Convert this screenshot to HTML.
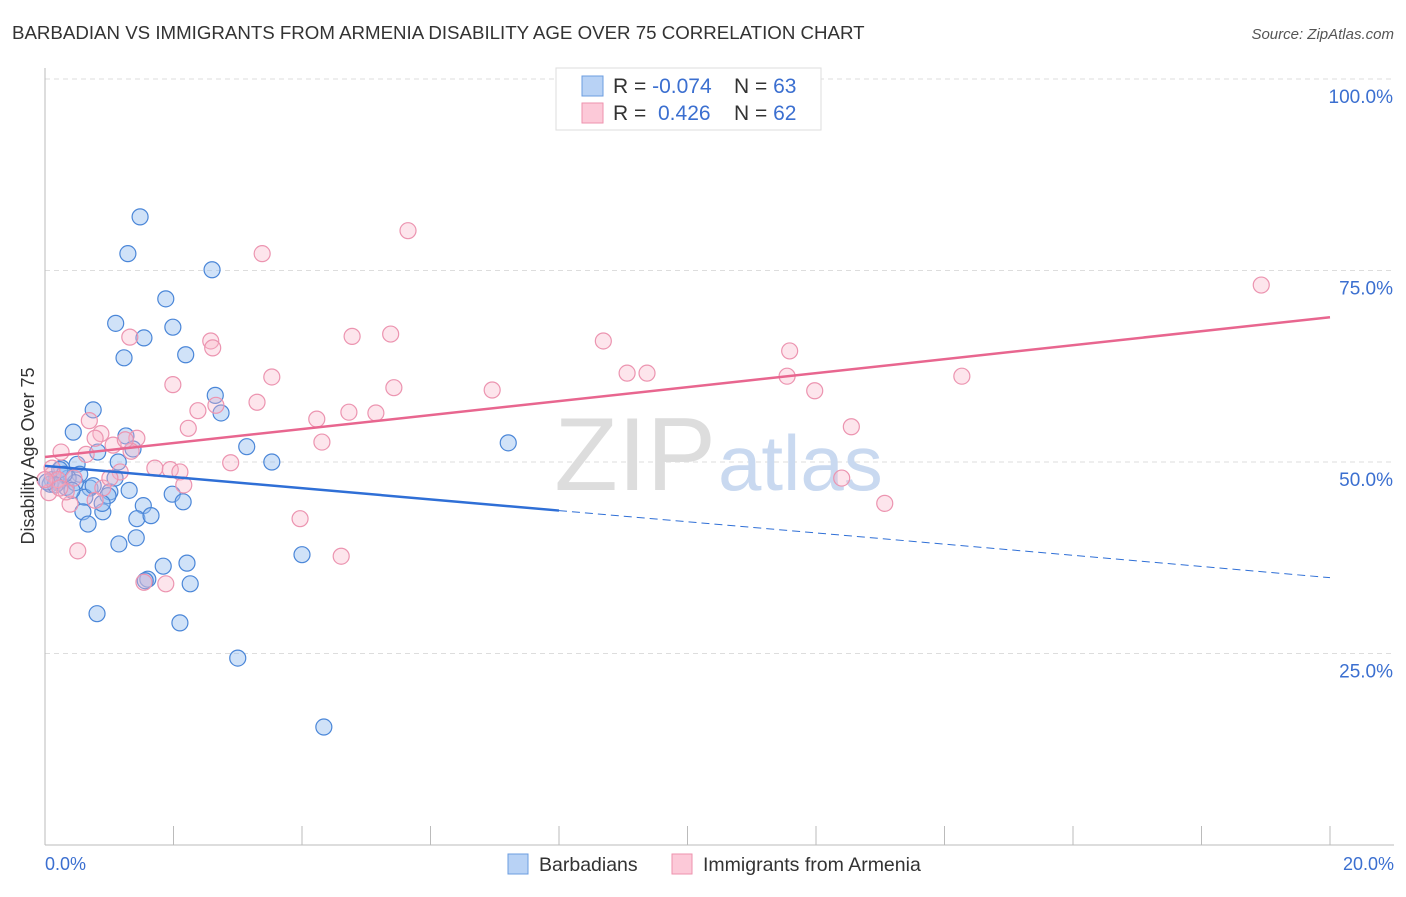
<!DOCTYPE html>
<html><head><meta charset="utf-8"><style>
body{margin:0;background:#fff;font-family:"Liberation Sans",sans-serif;}
svg text{font-family:"Liberation Sans",sans-serif;}
</style></head><body>
<svg id="chart" width="1406" height="892">
<text x="12" y="39" font-size="18.7" fill="#333">BARBADIAN VS IMMIGRANTS FROM ARMENIA DISABILITY AGE OVER 75 CORRELATION CHART</text>
<text x="1394" y="39" font-size="15" fill="#555" font-style="italic" text-anchor="end">Source: ZipAtlas.com</text>
<g id="grid"></g>
<text x="716" y="490" font-size="104" fill="#ddd" text-anchor="end" font-family="Liberation Serif">ZIP</text>
<text x="718" y="490" font-size="78" fill="#c9d9f0">atlas</text>
<g id="points"></g>
<g id="lines"></g>
<text transform="translate(34,456) rotate(-90)" font-size="18" fill="#333" text-anchor="middle">Disability Age Over 75</text>
<text x="45" y="870" font-size="18" fill="#3b6fd0">0.0%</text>
<text x="1394" y="870" font-size="18" fill="#3b6fd0" text-anchor="end">20.0%</text>
<g>
<rect x="556" y="68" width="265" height="62" fill="#fff" stroke="#ddd"/>
<rect x="582" y="76" width="21" height="20" fill="#b8d2f5" stroke="#6b9de0"/>
<rect x="582" y="103" width="21" height="20" fill="#fcc9d8" stroke="#ee92ae"/>
<text x="613" y="93" font-size="21" fill="#333">R = <tspan fill="#3b6fd0">-0.074</tspan></text>
<text x="734" y="93" font-size="21" fill="#333">N = <tspan fill="#3b6fd0">63</tspan></text>
<text x="613" y="120" font-size="21" fill="#333">R = <tspan fill="#3b6fd0" x="658">0.426</tspan></text>
<text x="734" y="120" font-size="21" fill="#333">N = <tspan fill="#3b6fd0">62</tspan></text>
</g>
<g>
<rect x="508" y="854" width="20" height="20" fill="#b8d2f5" stroke="#6b9de0"/>
<text x="539" y="871" font-size="19.5" fill="#333">Barbadians</text>
<rect x="672" y="854" width="20" height="20" fill="#fcc9d8" stroke="#ee92ae"/>
<text x="703" y="871" font-size="19.5" fill="#333">Immigrants from Armenia</text>
</g>
</svg>
<script>
const yTicks=[25,50,75,100];
const xTicks=[0,2,4,6,8,10,12,14,16,18,20];
const blueX=[1.48,1.29,2.60,1.88,1.10,1.99,1.54,2.19,1.23,2.65,0.75,2.74,0.44,1.26,3.14,1.37,0.82,3.53,0.50,0.26,0.54,0.11,0.20,0.33,0.70,1.01,1.31,1.98,0.98,0.62,1.53,2.15,0.90,0.59,1.43,1.65,0.67,1.42,1.15,1.84,2.21,1.60,1.56,2.26,4.00,0.81,2.10,3.00,4.34,7.21,0.17,0.08,0.36,0.23,0.47,0.42,0.89,1.14,0.30,0.16,0.75,1.09,0.03];
const blueY=[82.0,77.2,75.1,71.3,68.1,67.6,66.2,64.0,63.6,58.7,56.8,56.4,53.9,53.4,52.0,51.7,51.3,50.0,49.7,49.2,48.4,47.7,47.3,46.7,46.6,46.1,46.3,45.8,45.6,45.4,44.3,44.8,43.5,43.5,42.6,43.0,41.9,40.1,39.3,36.4,36.8,34.7,34.5,34.1,37.9,30.2,29.0,24.4,15.4,52.5,47.5,47.1,47.9,49.0,47.3,46.3,44.6,50.0,48.4,47.0,46.9,47.9,47.4];
const pinkX=[5.65,3.38,18.93,1.32,4.78,5.38,2.58,2.61,8.69,11.59,3.53,1.99,9.06,9.37,11.55,14.27,5.43,6.96,11.98,3.30,2.66,2.38,4.73,5.15,4.23,0.69,2.23,12.55,0.87,1.43,0.78,4.31,1.06,1.34,0.25,0.64,2.89,1.71,1.95,2.10,1.17,0.12,0.45,2.16,12.40,0.90,0.39,0.06,13.07,3.97,0.51,4.61,1.54,1.88,0.11,0.33,0.20,1.01,1.25,0.00,0.78,0.23];
const pinkY=[80.2,77.2,73.1,66.3,66.4,66.7,65.8,64.9,65.8,64.5,61.1,60.1,61.6,61.6,61.2,61.2,59.7,59.4,59.3,57.8,57.4,56.7,56.5,56.4,55.6,55.4,54.4,54.6,53.7,53.1,53.1,52.6,52.2,51.4,51.3,51.0,49.9,49.2,49.0,48.7,48.7,48.4,47.9,47.0,47.9,46.6,44.5,46.0,44.6,42.6,38.4,37.7,34.3,34.1,49.2,46.1,47.7,47.9,52.9,47.7,45.0,46.6];
const blueLine=[49.5,34.9]; // value at x=0, x=20
const pinkLine=[50.65,68.9];
const X=v=>45+v/20*1285, Y=v=>845-v/100*766;
const NS='http://www.w3.org/2000/svg';
function mk(t,a,p){const e=document.createElementNS(NS,t);for(const k in a)e.setAttribute(k,a[k]);p.appendChild(e);return e;}
const grid=document.getElementById('grid');
for(const t of yTicks){
 const l=mk('line',{x1:45,x2:1394,y1:Y(t),y2:Y(t),stroke:'#ddd','stroke-dasharray':'5,4'},grid);
 
 
 const tx=mk('text',{x:1393,y:Y(t)+24,'font-size':19,fill:'#3b6fd0','text-anchor':'end'},grid);
 tx.textContent=t.toFixed(1)+'%';
 
 
}
const ax=mk('line',{x1:45,x2:45,y1:68,y2:845,stroke:'#bbb'},grid);


const bx=mk('line',{x1:45,x2:1394,y1:845,y2:845,stroke:'#bbb'},grid);


for(const t of xTicks){
 const l=mk('line',{x1:X(t),x2:X(t),y1:826,y2:845,stroke:'#bbb'},grid);
 
 
}
const pts=document.getElementById('points');
blueX.forEach((v,i)=>{
 const c=mk('circle',{cx:X(v),cy:Y(blueY[i]),r:8,fill:'rgba(150,190,240,0.45)',stroke:'#4a86d8','stroke-width':1.2},pts);
 
 
});
pinkX.forEach((v,i)=>{
 const c=mk('circle',{cx:X(v),cy:Y(pinkY[i]),r:8,fill:'rgba(250,180,200,0.35)',stroke:'#ec94b0','stroke-width':1.2},pts);
 
 
});
const ln=document.getElementById('lines');
const bAt=x=>blueLine[0]+(blueLine[1]-blueLine[0])*x/20;
const b1=mk('line',{x1:X(0),y1:Y(bAt(0)),x2:X(8),y2:Y(bAt(8)),stroke:'#2f6fd6','stroke-width':2.5},ln);


const b2=mk('line',{x1:X(8),y1:Y(bAt(8)),x2:X(20),y2:Y(bAt(20)),stroke:'#2f6fd6','stroke-width':1,'stroke-dasharray':'8,5'},ln);


const p1=mk('line',{x1:X(0),y1:Y(pinkLine[0]),x2:X(20),y2:Y(pinkLine[1]),stroke:'#e8668f','stroke-width':2.5},ln);


</script>
</body></html>
